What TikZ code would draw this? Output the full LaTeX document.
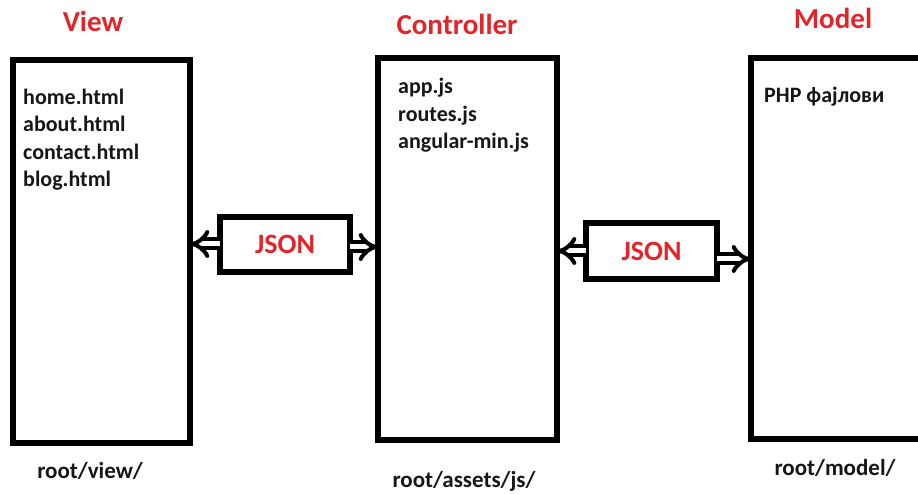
\documentclass[tikz,border=0pt]{standalone}
\usepackage{fontspec}
\setmainfont{Carlito}
\usetikzlibrary{arrows.meta}
\definecolor{titlered}{HTML}{E0262B}
\definecolor{inkc}{HTML}{161616}
\tikzset{
  bigbox/.style={draw=black, line width=6pt, inner sep=0pt, outer sep=0pt, fill=white},
  jsonbox/.style={draw=black, line width=6pt, inner sep=0pt, outer sep=0pt, fill=white,
     font=\fontsize{28}{32}\selectfont\bfseries, text=titlered},
  title/.style={anchor=base, font=\fontsize{29}{34}\selectfont\bfseries, text=titlered},
  listtxt/.style={anchor=base west, inner sep=0pt, align=left, text=inkc,
     font=\fontsize{22}{27.5}\selectfont\bfseries},
  pathtxt/.style={anchor=base, inner sep=0pt, text=inkc, font=\fontsize{23}{27}\selectfont\bfseries},
  dblarrow/.style={double=white, double distance=5pt, line width=4pt,
     -{Implies[scale=1.7]}, shorten >=0pt}
}
\begin{document}
\begin{tikzpicture}[x=1pt,y=-1pt]
\useasboundingbox (0,0) rectangle (918,494);
\clip (0,0) rectangle (918,494);
% main boxes
\node[bigbox, minimum width=177pt, minimum height=383pt] (view) at (101.5,251.5) {};
\node[bigbox, minimum width=179pt, minimum height=382pt] (ctrl) at (467.5,249) {};
\node[bigbox, minimum width=190pt, minimum height=381pt] (model) at (846,248.5) {};
% titles
\node[title] (tview) at (93,32) {View};
\node[title] (tctrl) at (457,35) {Controller};
\node[title] (tmodel) at (833,29) {Model};
% contents (anchored on the baseline of the last line)
\node[listtxt] (lview) at (23,187) {home.html\\about.html\\contact.html\\blog.html};
\node[listtxt] (lctrl) at (398,149) {app.js\\routes.js\\angular-min.js};
\node[listtxt] (lmodel) at (764,103) {PHP фајлови};
% JSON boxes
\node[jsonbox, minimum width=130pt, minimum height=55pt] (j1) at (285,244.5) {JSON};
\node[jsonbox, minimum width=131pt, minimum height=56pt] (j2) at (651.5,251) {JSON};
% arrows
\draw[dblarrow] (j1.west |- 0,244) -- (view.east |- 0,244);
\draw[dblarrow] (j1.east |- 0,247) -- (ctrl.west |- 0,247);
\draw[dblarrow] (j2.west |- 0,251) -- (ctrl.east |- 0,251);
\draw[dblarrow] (j2.east |- 0,259) -- (model.west |- 0,259);
% paths
\node[pathtxt] (pview) at (90,478) {root/view/};
\node[pathtxt] (pctrl) at (464,487) {root/assets/js/};
\node[pathtxt] (pmodel) at (835,475) {root/model/};
\end{tikzpicture}
\end{document}
